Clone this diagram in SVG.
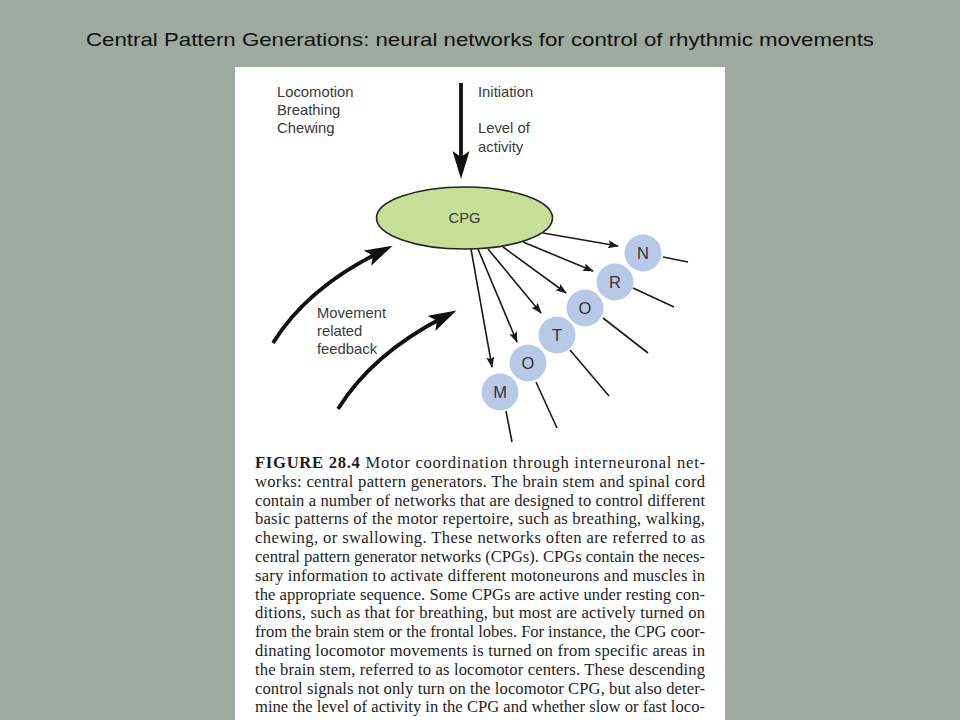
<svg xmlns="http://www.w3.org/2000/svg" width="960" height="720" viewBox="0 0 960 720">
<defs>
<style>
.lab{font-family:"Liberation Sans",Arial,sans-serif;font-size:14.8px;fill:#3a3a3a}
.cap{font-family:"Liberation Serif","Times New Roman",serif;font-size:16.6px;fill:#1e1e1e}
.node{fill:#b7c9e6}
.nlab{font-family:"Liberation Sans",Arial,sans-serif;font-size:16.5px;fill:#333;text-anchor:middle}
.thin{stroke:#1a1a1a;stroke-width:1.6;fill:none;marker-end:url(#smallHead)}
.out{stroke:#1a1a1a;stroke-width:1.6;fill:none}
.thick{stroke:#111;stroke-width:3.8;fill:none;marker-end:url(#bigHead)}
</style>
<marker id="smallHead" markerUnits="userSpaceOnUse" markerWidth="12" markerHeight="9" refX="10" refY="4" orient="auto">
<path d="M0,0 L11,4 L0,8 L2,4 z" fill="#1a1a1a"/>
</marker>
<marker id="bigHead" markerUnits="userSpaceOnUse" markerWidth="30" markerHeight="18" refX="14" refY="8.5" orient="auto">
<path d="M0,0 L28,8.5 L0,17 L6,8.5 z" fill="#111"/>
</marker>
</defs>
<rect x="0" y="0" width="960" height="720" fill="#9eaa9e"/>
<text x="480" y="46" text-anchor="middle" font-family="'Liberation Sans',Arial,sans-serif" font-size="19" fill="#111" textLength="788" lengthAdjust="spacingAndGlyphs">Central Pattern Generations: neural networks for control of rhythmic movements</text>
<rect x="235" y="67" width="490" height="660" fill="#ffffff"/>

<g id="labels">
<text class="lab" x="277" y="97">Locomotion</text>
<text class="lab" x="277" y="115">Breathing</text>
<text class="lab" x="277" y="133">Chewing</text>
<text class="lab" x="478" y="97">Initiation</text>
<text class="lab" x="478" y="133">Level of</text>
<text class="lab" x="478" y="152">activity</text>
<text class="lab" x="317" y="318">Movement</text>
<text class="lab" x="317" y="336">related</text>
<text class="lab" x="317" y="354">feedback</text>
</g>

<g id="connectors">
<path class="thick" d="M461,83 L461,165"/>
<path class="thick" d="M273,343 Q307,288 380,252"/>
<path class="thick" d="M338,409 Q372,354 444,317"/>
<path class="thin" d="M543,233 L618,246"/>
<path class="thin" d="M523,242 L593,271"/>
<path class="thin" d="M503,247 L566,293"/>
<path class="thin" d="M488,249 L541,313"/>
<path class="thin" d="M478,249 L517,342"/>
<path class="thin" d="M471,249 L492,367"/>
<path class="out" d="M663,257 L688,262"/>
<path class="out" d="M633,288 L674,307"/>
<path class="out" d="M603,318 L648,353"/>
<path class="out" d="M570,350 L609,396"/>
<path class="out" d="M536,382 L557,428"/>
<path class="out" d="M506,411 L512,442"/>
</g>

<g id="cpg">
<ellipse cx="464.5" cy="218" rx="88" ry="31" fill="#c6df97" stroke="#222" stroke-width="1.6"/>
<text class="lab" x="464.5" y="223" text-anchor="middle" font-size="14.3">CPG</text>
</g>
<g id="n-N"><circle class="node" cx="643" cy="253" r="18.5"/><text class="nlab" x="643" y="259">N</text></g>
<g id="n-R"><circle class="node" cx="615" cy="282" r="18.5"/><text class="nlab" x="615" y="288">R</text></g>
<g id="n-O2"><circle class="node" cx="585" cy="308" r="18.5"/><text class="nlab" x="585" y="314">O</text></g>
<g id="n-T"><circle class="node" cx="557" cy="335" r="18.5"/><text class="nlab" x="557" y="341">T</text></g>
<g id="n-O1"><circle class="node" cx="528" cy="363" r="18.5"/><text class="nlab" x="528" y="369">O</text></g>
<g id="n-M"><circle class="node" cx="500" cy="392" r="18.5"/><text class="nlab" x="500" y="398">M</text></g>

<g id="caption">
<text class="cap" x="255" y="468" textLength="450" lengthAdjust="spacing"><tspan font-weight="bold">FIGURE 28.4</tspan>  Motor coordination through interneuronal net-</text>
<text class="cap" x="255" y="486.8" textLength="450" lengthAdjust="spacing">works: central pattern generators. The brain stem and spinal cord</text>
<text class="cap" x="255" y="505.6" textLength="450" lengthAdjust="spacing">contain a number of networks that are designed to control different</text>
<text class="cap" x="255" y="524.4" textLength="450" lengthAdjust="spacing">basic patterns of the motor repertoire, such as breathing, walking,</text>
<text class="cap" x="255" y="543.2" textLength="450" lengthAdjust="spacing">chewing, or swallowing. These networks often are referred to as</text>
<text class="cap" x="255" y="562" textLength="450" lengthAdjust="spacing">central pattern generator networks (CPGs). CPGs contain the neces-</text>
<text class="cap" x="255" y="580.8" textLength="450" lengthAdjust="spacing">sary information to activate different motoneurons and muscles in</text>
<text class="cap" x="255" y="599.6" textLength="450" lengthAdjust="spacing">the appropriate sequence. Some CPGs are active under resting con-</text>
<text class="cap" x="255" y="618.4" textLength="450" lengthAdjust="spacing">ditions, such as that for breathing, but most are actively turned on</text>
<text class="cap" x="255" y="637.2" textLength="450" lengthAdjust="spacing">from the brain stem or the frontal lobes. For instance, the CPG coor-</text>
<text class="cap" x="255" y="656" textLength="450" lengthAdjust="spacing">dinating locomotor movements is turned on from specific areas in</text>
<text class="cap" x="255" y="674.8" textLength="450" lengthAdjust="spacing">the brain stem, referred to as locomotor centers. These descending</text>
<text class="cap" x="255" y="693.6" textLength="450" lengthAdjust="spacing">control signals not only turn on the locomotor CPG, but also deter-</text>
<text class="cap" x="255" y="712.4" textLength="450" lengthAdjust="spacing">mine the level of activity in the CPG and whether slow or fast loco-</text>
</g>
</svg>
